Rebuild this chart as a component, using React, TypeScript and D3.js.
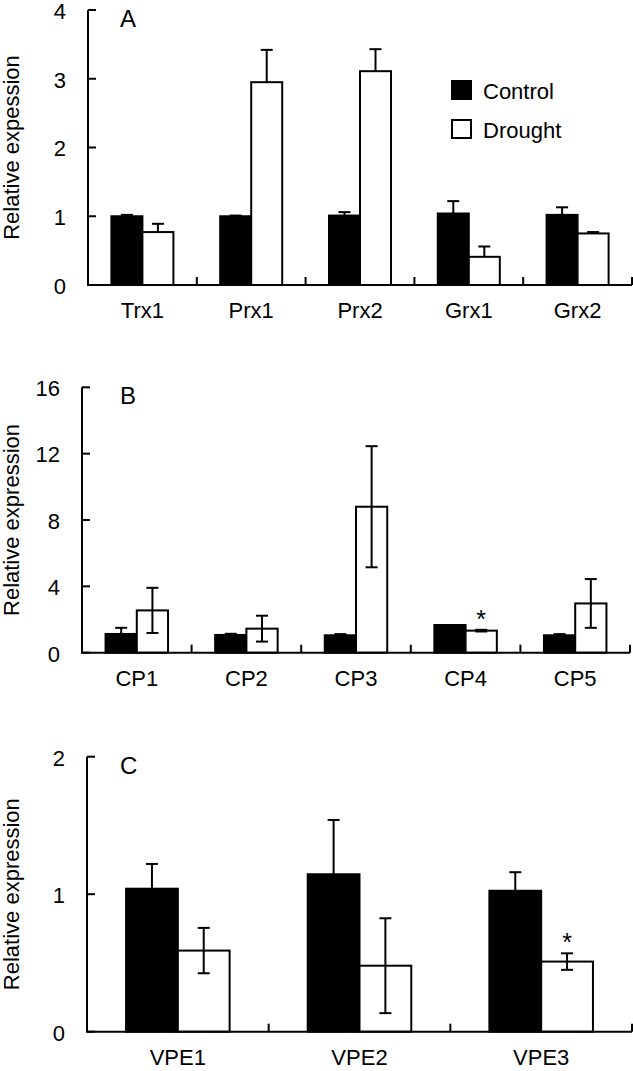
import React, { useEffect } from 'react'
import * as d3 from 'd3'

// Panel A - redox genes
const genesA = ['Trx1', 'Prx1', 'Prx2', 'Grx1', 'Grx2']
const controlA = [1.0, 1.0, 1.01, 1.04, 1.02]
const controlErrA = [0.02, 0.01, 0.05, 0.18, 0.11]
const droughtA = [0.77, 2.95, 3.11, 0.41, 0.75]
const droughtErrA = [0.12, 0.47, 0.32, 0.15, 0.02]
const sigA = ['', '', '', '', '']
const ticksA = [0, 1, 2, 3, 4]

// Panel B - cysteine proteases
const genesB = ['CP1', 'CP2', 'CP3', 'CP4', 'CP5']
const controlB = [1.13, 1.07, 1.05, 1.67, 1.05]
const controlErrB = [0.37, 0.07, 0.07, 0, 0.07]
const droughtB = [2.55, 1.45, 8.8, 1.33, 2.97]
const droughtErrB = [1.36, 0.78, 3.65, 0.05, 1.47]
const sigB = ['', '', '', '*', '']
const ticksB = [0, 4, 8, 12, 16]

// Panel C - VPEs
const genesC = ['VPE1', 'VPE2', 'VPE3']
const controlC = [1.04, 1.145, 1.025]
const controlErrC = [0.18, 0.395, 0.135]
const droughtC = [0.59, 0.48, 0.51]
const droughtErrC = [0.165, 0.345, 0.06]
const sigC = ['', '', '*']
const ticksC = [0, 1, 2]

const series = ['Control', 'Drought']
const fills = ['#000000', '#ffffff']

const FONT = '"Liberation Sans", Arial, Helvetica, sans-serif'

interface IPanelProps {
  letter: string
  yLabel: string
  genes: string[]
  control: number[]
  controlErr: number[]
  drought: number[]
  droughtErr: number[]
  sig: string[]
  ticks: number[]
  left: number
  right: number
  top: number
  bottom: number
  bothWays: boolean
  legend?: boolean
}

const Panel = (p: IPanelProps) => {
  const y = d3.scaleLinear().domain([0, p.ticks[p.ticks.length - 1]]).range([p.bottom, p.top])
  const x0 = d3.scaleBand<string>()
    .domain(p.genes)
    .range([p.left, p.right])
    .paddingInner(0.43)
    .paddingOuter(0.215)
  const x1 = d3.scaleBand<string>().domain(series).range([0, x0.bandwidth()])
  const step = x0.step()
  const vals = [p.control, p.drought]
  const errs = [p.controlErr, p.droughtErr]
  const cap = 6

  return (
    <g>
      {/* bars */}
      {p.genes.map((g, i) => (
        <g key={g}>
          {series.map((s, k) => {
            const bx = (x0(g) ?? 0) + (x1(s) ?? 0)
            const v = vals[k][i]
            return (
              <rect key={s} x={bx} y={y(v)} width={x1.bandwidth()} height={p.bottom - y(v)}
                fill={fills[k]} stroke="#000" strokeWidth={2} />
            )
          })}
          {series.map((s, k) => {
            const cx = (x0(g) ?? 0) + (x1(s) ?? 0) + x1.bandwidth() / 2
            const v = vals[k][i]
            const e = errs[k][i]
            if (e <= 0) return null
            const hi = y(v + e)
            const lo = p.bothWays ? y(v - e) : y(v)
            return (
              <g key={s} stroke="#000" strokeWidth={2}>
                <line x1={cx} x2={cx} y1={hi} y2={lo} />
                <line x1={cx - cap} x2={cx + cap} y1={hi} y2={hi} />
                {p.bothWays && <line x1={cx - cap} x2={cx + cap} y1={lo} y2={lo} />}
              </g>
            )
          })}
          {p.sig[i] && (
            <text x={(x0(g) ?? 0) + (x1('Drought') ?? 0) + x1.bandwidth() / 2}
              y={y(p.drought[i] + p.droughtErr[i]) - 2}
              textAnchor="middle" fontSize={25} fontFamily={FONT}>{p.sig[i]}</text>
          )}
          <text x={(x0(g) ?? 0) + x0.bandwidth() / 2} y={p.bottom + 33}
            textAnchor="middle" fontSize={22} fontFamily={FONT}>{g}</text>
        </g>
      ))}

      {/* axes */}
      <line x1={p.left} x2={p.left} y1={p.top} y2={p.bottom} stroke="#000" strokeWidth={2} />
      <line x1={p.left - 1} x2={p.right} y1={p.bottom} y2={p.bottom} stroke="#000" strokeWidth={2} />
      {p.ticks.map(t => (
        <g key={t}>
          <line x1={p.left} x2={p.left + 8} y1={y(t)} y2={y(t)} stroke="#000" strokeWidth={2} />
          <text x={p.left - 22} y={y(t)} dy="0.4em"
            textAnchor="end" fontSize={22} fontFamily={FONT}>{t}</text>
        </g>
      ))}
      {p.genes.map((g, i) => {
        const bx = p.left + step * (i + 1)
        return <line key={g} x1={bx} x2={bx} y1={p.bottom} y2={p.bottom - 8} stroke="#000" strokeWidth={2} />
      })}

      {/* labels */}
      <text x={120} y={p.top + 17} fontSize={24} fontFamily={FONT}>{p.letter}</text>
      <text transform={`translate(19,${(p.top + p.bottom) / 2}) rotate(-90)`}
        textAnchor="middle" fontSize={22} fontFamily={FONT}>{p.yLabel}</text>

      {p.legend && (
        <g fontFamily={FONT} fontSize={22}>
          {series.map((s, k) => (
            <g key={s} transform={`translate(452,${81 + k * 39})`}>
              <rect x={0} y={0} width={19} height={18} fill={fills[k]} stroke="#000" strokeWidth={2} />
              <text x={31} y={18}>{s}</text>
            </g>
          ))}
        </g>
      )}
    </g>
  )
}

const App = () => {
  useEffect(() => {
    document.body.style.margin = '0'
  }, [])

  return (
    <svg width={633} height={1071} style={{ display: 'block', background: '#fff' }}>
      <Panel letter="A" yLabel="Relative expession" genes={genesA}
        control={controlA} controlErr={controlErrA} drought={droughtA} droughtErr={droughtErrA}
        sig={sigA} ticks={ticksA} left={88} right={632} top={10} bottom={285} bothWays={false} legend />
      <Panel letter="B" yLabel="Relative expression" genes={genesB}
        control={controlB} controlErr={controlErrB} drought={droughtB} droughtErr={droughtErrB}
        sig={sigB} ticks={ticksB} left={82} right={630} top={387.3} bottom={652.7} bothWays />
      <Panel letter="C" yLabel="Relative expression" genes={genesC}
        control={controlC} controlErr={controlErrC} drought={droughtC} droughtErr={droughtErrC}
        sig={sigC} ticks={ticksC} left={87} right={632} top={756.7} bottom={1031.7} bothWays />
    </svg>
  )
}

export default App
